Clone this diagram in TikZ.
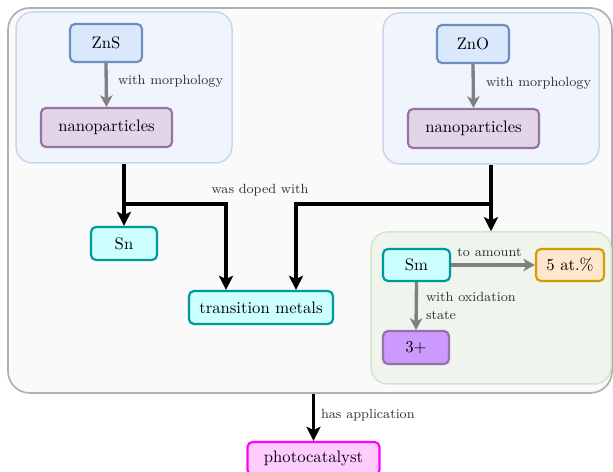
\documentclass[tikz,border=0pt]{standalone}
\usetikzlibrary{arrows.meta,positioning}
\definecolor{outerfill}{HTML}{FAFAFA}
\definecolor{outerdraw}{HTML}{B0B0B0}
\definecolor{grpbluefill}{HTML}{F0F4FC}
\definecolor{grpbluedraw}{HTML}{C8D6EE}
\definecolor{grpgreenfill}{HTML}{EFF4EC}
\definecolor{grpgreendraw}{HTML}{D3E6CC}
\definecolor{bluefill}{HTML}{DAE8FC}
\definecolor{bluedraw}{HTML}{6C8EBF}
\definecolor{purpfill}{HTML}{E1D5E7}
\definecolor{purpdraw}{HTML}{9673A6}
\definecolor{tealfill}{HTML}{CCFFFF}
\definecolor{tealdraw}{HTML}{009999}
\definecolor{orfill}{HTML}{FFE6CC}
\definecolor{ordraw}{HTML}{D79B00}
\definecolor{violfill}{HTML}{CC99FF}
\definecolor{pinkfill}{HTML}{FFCCFF}
\definecolor{pinkdraw}{HTML}{FF00FF}
\definecolor{arrgray}{HTML}{808080}
\definecolor{labtext}{HTML}{333333}
\tikzset{
  box/.style={draw, rounded corners=3pt, line width=1.3pt, inner sep=2pt, font=\normalsize},
  grp/.style={draw, rounded corners=10pt, line width=0.9pt, inner sep=0pt},
  blk/.style={line width=2.3pt, -{Stealth[length=8.5pt,width=8.5pt,inset=2pt]}},
  gry/.style={line width=2pt, arrgray, -{Stealth[length=7pt,width=7.5pt,inset=2pt]}},
  lab/.style={font=\footnotesize, text=labtext, inner sep=1pt}
}
\begin{document}
\begin{tikzpicture}[x=0.6pt,y=-0.6pt]
\clip (0,0) rectangle (613,472);
\useasboundingbox (0,0) rectangle (613,472);
% outer container
\node[grp, rounded corners=13pt, fill=outerfill, draw=outerdraw, line width=1pt,
      minimum width=362.4pt, minimum height=231pt] (outer) at (310,200.5) {};
% groups
\node[grp, fill=grpbluefill, draw=grpbluedraw, minimum width=129.6pt, minimum height=90.6pt] (gL) at (124,87.5) {};
\node[grp, fill=grpbluefill, draw=grpbluedraw, minimum width=129.6pt, minimum height=90.6pt] (gR) at (491,88.5) {};
\node[grp, fill=grpgreenfill, draw=grpgreendraw, minimum width=144pt, minimum height=91.2pt] (gSm) at (491,308) {};
% nodes
\node[box, fill=bluefill, draw=bluedraw, minimum width=43.2pt, minimum height=22.8pt] (ZnS) at (106,43) {ZnS};
\node[box, fill=purpfill, draw=purpdraw, minimum width=78.6pt, minimum height=23.4pt] (npL) at (106.5,127.5) {nanoparticles};
\node[box, fill=bluefill, draw=bluedraw, minimum width=43.2pt, minimum height=22.8pt] (ZnO) at (473,44) {ZnO};
\node[box, fill=purpfill, draw=purpdraw, minimum width=78.6pt, minimum height=23.4pt] (npR) at (473.5,128.5) {nanoparticles};
\node[box, fill=tealfill, draw=tealdraw, minimum width=39.6pt, minimum height=19.8pt] (Sn) at (124,243.5) {Sn};
\node[box, fill=tealfill, draw=tealdraw, minimum width=86.4pt, minimum height=19.8pt] (TM) at (261,307.5) {transition metals};
\node[box, fill=tealfill, draw=tealdraw, minimum width=40.2pt, minimum height=19.2pt] (Sm) at (416.5,265) {Sm};
\node[box, fill=orfill, draw=ordraw, minimum width=40.8pt, minimum height=19.2pt] (amt) at (570,265) {5 at.\%};
\node[box, fill=violfill, draw=purpdraw, minimum width=39.6pt, minimum height=19.8pt] (ox) at (416,347.5) {3+};
\node[box, fill=pinkfill, draw=pinkdraw, minimum width=79.2pt, minimum height=19.8pt] (photo) at (313.5,458.5) {photocatalyst};
% gray connectors
\draw[gry] (ZnS.south) -- (npL.north);
\node[lab, anchor=west] (l1) at (116,81) {with morphology};
\draw[gry] (ZnO.south) -- (npR.north);
\node[lab, anchor=west] (l2) at (484,83) {with morphology};
\draw[gry] (Sm.east) -- (amt.west);
\node[lab] (l3) at (489.5,252) {to amount};
\draw[gry] (Sm.south) -- (ox.north);
\node[lab, anchor=west, align=left] (l4) at (424,306) {with oxidation\\[1.5pt]state};
% black connectors
\draw[blk] (gL.south) -- (Sn.north);
\draw[blk] (gL.south) ++(0,40) -| ([xshift=-21pt]TM.north);
\draw[blk] (gR.south) -- (gSm.north);
\draw[blk] (gR.south) ++(0,39) -| ([xshift=21pt]TM.north);
\node[lab] (l5) at (260,190) {was doped with};
\draw[blk] (outer.south -| photo.north) -- (photo.north);
\node[lab, anchor=west] (l6) at (319,415) {has application};
\end{tikzpicture}
\end{document}
